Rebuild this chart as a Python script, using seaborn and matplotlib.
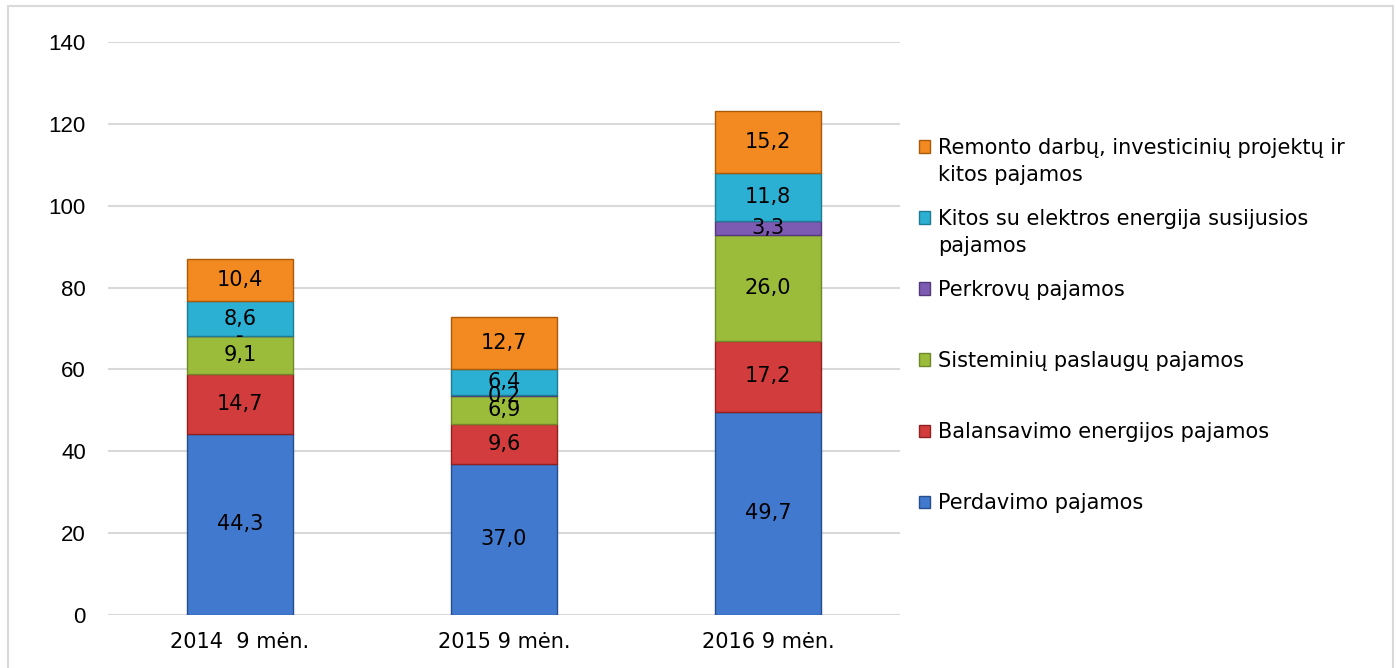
"""
Pajamų struktūra (mln. Eur) – sukrautų stulpelių diagrama.
"""

import matplotlib.pyplot as plt
import matplotlib.patches as mpatches
import seaborn as sns
import numpy as np

# duomenys
laikotarpiai = ["2014  9 mėn.", "2015 9 mėn.", "2016 9 mėn."]
perdavimo = [44.3, 37.0, 49.7]
balansavimo = [14.7, 9.6, 17.2]
sisteminiu = [9.1, 6.9, 26.0]
perkrovu = [0.0, 0.2, 3.3]
kitos_elektros = [8.6, 6.4, 11.8]
remonto = [10.4, 12.7, 15.2]

serijos = [
    ("Perdavimo pajamos", perdavimo, "#4179CE"),
    ("Balansavimo energijos pajamos", balansavimo, "#D23C3C"),
    ("Sisteminių paslaugų pajamos", sisteminiu, "#9BBB3A"),
    ("Perkrovų pajamos", perkrovu, "#7E5BB3"),
    ("Kitos su elektros energija susijusios\npajamos", kitos_elektros, "#2BAFD2"),
    ("Remonto darbų, investicinių projektų ir\nkitos pajamos", remonto, "#F28A21"),
]

sns.set_theme(style="white")
plt.rcParams["font.family"] = ["DejaVu Sans"]
plt.rcParams["text.color"] = "black"
plt.rcParams["xtick.color"] = "black"
plt.rcParams["ytick.color"] = "black"

fig = plt.figure(figsize=(13.96, 6.68), dpi=100)
ax = fig.add_axes([0.0774, 0.0793, 0.5673, 0.8577])

# išorinis rėmelis
fig.patches.append(
    mpatches.Rectangle(
        (8 / 1396, -0.05), 1385 / 1396, 1.05 - 6 / 668,
        transform=fig.transFigure, fill=False, edgecolor="#D9D9D9", linewidth=1.5,
    )
)

apacia = np.zeros(len(laikotarpiai))
rankenos = []
for pavadinimas, reiksmes, spalva in serijos:
    krastas = sns.set_hls_values(spalva, l=0.35)
    sns.barplot(
        x=laikotarpiai, y=reiksmes, bottom=apacia, color=spalva, width=0.4,
        edgecolor=krastas, linewidth=1.0, saturation=1, ax=ax, zorder=3,
    )
    konteineris = ax.containers[-1]
    etiketes = [("-" if v == 0 else f"{v:.1f}".replace(".", ",")) for v in reiksmes]
    ax.bar_label(konteineris, labels=etiketes, label_type="center",
                 fontsize=15, color="black", zorder=5)
    rankenos.append((mpatches.Patch(facecolor=spalva, edgecolor=krastas), pavadinimas))
    apacia = apacia + np.array(reiksmes)

ax.set_ylim(0, 140)
ax.set_xlim(-0.5, 2.5)
ax.set_yticks(range(0, 141, 20))
ax.yaxis.grid(True, color="#D9D9D9", linewidth=1.5, zorder=0)
ax.set_axisbelow(True)
for s in ax.spines.values():
    s.set_visible(False)
ax.tick_params(axis="y", length=0, pad=16)
ax.tick_params(axis="x", length=0, pad=12, labelsize=15)
for t in ax.get_yticklabels():
    t.set_fontfamily("Liberation Sans")
    t.set_fontsize(16)
ax.set_xlabel("")
ax.set_ylabel("")

# legenda: pirmos eilutės legendoje, antros – kaip tekstas po jomis
rankenos = rankenos[::-1]
leg = ax.legend(
    [h for h, _ in rankenos],
    [p.split("\n")[0] for _, p in rankenos],
    loc="upper left", bbox_to_anchor=(919 / 1396, 1 - 138 / 668),
    bbox_transform=fig.transFigure, frameon=False, fontsize=15,
    handlelength=0.55, handleheight=0.55, handletextpad=0.35,
    labelspacing=2.45, borderpad=0, borderaxespad=0,
)

fig.canvas.draw()
W, H = fig.canvas.get_width_height()
for tekstas, (_, p) in zip(leg.get_texts(), rankenos):
    if "\n" in p:
        bb = tekstas.get_window_extent()
        fig.text(bb.x0 / W, (bb.y1 - 27) / H, p.split("\n")[1],
                 ha="left", va="top", fontsize=15)

fig.savefig("out.png", dpi=100)
